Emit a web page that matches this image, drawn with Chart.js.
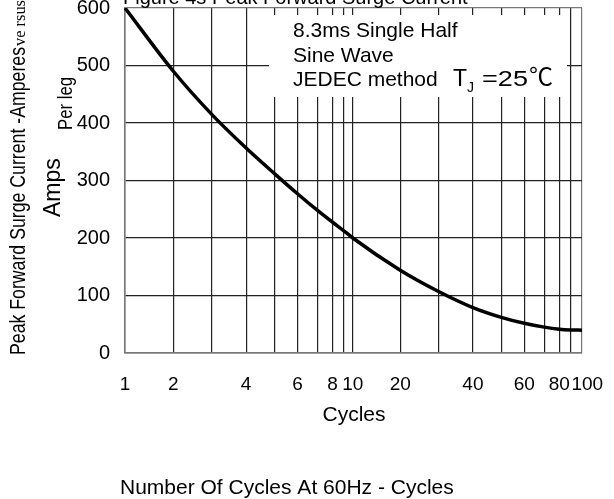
<!DOCTYPE html>
<html>
<head>
<meta charset="utf-8">
<script src="https://cdn.jsdelivr.net/npm/chart.js@4/dist/chart.umd.min.js"></script>
<style>
  html, body { margin: 0; padding: 0; background: #fff; }
  #surgeChart { display: block; }
</style>
</head>
<body>
<canvas id="surgeChart" width="614" height="499"></canvas>
<script>
// Number of cycles (grid positions on the x axis) and surge current
const cycles = [1, 2, 3, 4, 5, 6, 7, 8, 9, 10, 20, 30, 40, 50, 60, 70, 80, 90, 100];
const surgeAmps = [600, 490, 415, 356.5, 312, 277, 248, 227.5, 213, 200, 144, 107, 79, 62, 51.6, 45, 41.5, 40.2, 39.7];

// Tick labels shown under the x axis, and y axis range
const xTickLabels = [1, 2, 4, 6, 8, 10, 20, 40, 60, 80, 100];
const yMin = 0;
const yMax = 600;
const yStep = 100;

// The printed x axis is not a true log scale: each grid line sits at its own fraction of the width
const gridStops = [0, 0.1058, 0.1898, 0.2650, 0.3270, 0.3774, 0.4212, 0.4540, 0.4781, 0.4985,
                   0.6022, 0.6861, 0.7613, 0.8234, 0.8737, 0.9175, 0.9504, 0.9745, 1];

// map a cycle count to its fraction along the axis (linear between grid lines)
function warp(v) {
    if (v <= cycles[0]) return gridStops[0];
    for (let i = 1; i < cycles.length; i++) {
        if (v <= cycles[i]) {
            let t = (v - cycles[i - 1]) / (cycles[i] - cycles[i - 1]);
            return gridStops[i - 1] + t * (gridStops[i] - gridStops[i - 1]);
        }
    }
    return gridStops[gridStops.length - 1];
}

function unwarp(f) {
    for (let i = 1; i < gridStops.length; i++) {
        if (f <= gridStops[i]) {
            let t = (f - gridStops[i - 1]) / (gridStops[i] - gridStops[i - 1]);
            return cycles[i - 1] + t * (cycles[i] - cycles[i - 1]);
        }
    }
    return cycles[cycles.length - 1];
}

// Custom scale: a linear scale over the warped fraction
class CycleScale extends Chart.LinearScale {
    determineDataLimits() {
        this.min = 0;
        this.max = 1;
    }
    buildTicks() {
        return cycles.map(v => ({ value: v }));
    }
    getPixelForValue(value) {
        return super.getPixelForValue(warp(value));
    }
    getValueForPixel(pixel) {
        return unwarp(super.getValueForPixel(pixel));
    }
}
CycleScale.id = 'cycles';
CycleScale.defaults = {};
Chart.register(CycleScale);

const sans = "'Liberation Sans', Arial, sans-serif";
const narrow = "'Liberation Sans Narrow', 'Liberation Sans', Arial, sans-serif";

// draw text rotated bottom-to-top, starting at (x, y); optionally squeeze to a given length
function verticalText(ctx, text, x, y, font, fitLength) {
    ctx.save();
    ctx.font = font;
    ctx.translate(x, y);
    ctx.rotate(-Math.PI / 2);
    if (fitLength) {
        let w = ctx.measureText(text).width;
        ctx.scale(fitLength / w, 1);
    }
    ctx.textAlign = 'left';
    ctx.textBaseline = 'alphabetic';
    ctx.fillText(text, 0, 0);
    ctx.restore();
}

// horizontal text stretched/squeezed to a given width
function fitText(ctx, text, x, y, font, width) {
    ctx.save();
    ctx.font = font;
    ctx.translate(x, y);
    ctx.scale(width / ctx.measureText(text).width, 1);
    ctx.fillText(text, 0, 0);
    ctx.restore();
}

const labelsPlugin = {
    id: 'labelsPlugin',
    beforeDatasetsDraw(chart) {
        // white panel behind the note, covering the grid
        const ctx = chart.ctx;
        ctx.save();
        ctx.fillStyle = '#fff';
        ctx.fillRect(269, 15, 298, 82);
        ctx.restore();
    },
    afterDraw(chart) {
        const ctx = chart.ctx;
        ctx.save();
        ctx.fillStyle = '#000';
        ctx.textBaseline = 'alphabetic';
        ctx.textAlign = 'left';

        // figure title, mostly cut off at the top edge
        ctx.font = '20px ' + sans;
        ctx.fillText('Figure 4s Peak Forward Surge Current', 123, 4);

        // note inside the plot
        ctx.font = '21px ' + sans;
        ctx.fillText('8.3ms Single Half', 293, 36.5);
        ctx.fillText('Sine Wave', 293, 61.5);
        ctx.fillText('JEDEC method', 293, 86);
        ctx.font = '23px ' + sans;
        ctx.fillText('T', 453, 86);
        ctx.font = '14px ' + sans;
        ctx.fillText('J', 467, 92);
        fitText(ctx, '=25', 482, 86, '22px ' + sans, 46);
        ctx.font = "24px 'Noto Sans CJK SC', sans-serif";
        ctx.fillText('\u2103', 529, 85);

        // y axis titles
        verticalText(ctx, 'Peak Forward Surge Current -Amperes', 25, 355, '22px ' + narrow, 308);
        verticalText(ctx, 've rsus', 25, 46, "16px 'Liberation Serif', serif", 46);
        verticalText(ctx, 'Amps', 60, 217, '23px ' + sans);
        verticalText(ctx, 'Per leg', 72, 130, '21px ' + narrow, 53);

        // x axis titles
        ctx.font = '21px ' + sans;
        ctx.textAlign = 'center';
        ctx.fillText('Cycles', 354, 421);
        ctx.textAlign = 'left';
        ctx.fillText('Number Of Cycles At 60Hz - Cycles', 120, 494);
        ctx.restore();
    }
};

const ctx = document.getElementById('surgeChart').getContext('2d');
const surgeChart = new Chart(ctx, {
    type: 'line',
    data: {
        datasets: [{
            data: cycles.map((c, i) => ({ x: c, y: surgeAmps[i] })),
            borderColor: '#000',
            borderWidth: 3.5,
            pointRadius: 0,
            fill: false,
            cubicInterpolationMode: 'monotone'
        }]
    },
    options: {
        responsive: false,
        animation: false,
        layout: { padding: { top: 8, right: 32, left: 0, bottom: 0 } },
        plugins: {
            legend: { display: false },
            tooltip: { enabled: false },
            title: { display: false }
        },
        scales: {
            x: {
                type: 'cycles',
                position: 'bottom',
                afterFit: scale => {
                    scale.height = 146;
                    scale.paddingLeft = 0;
                    scale.paddingRight = 0;
                },
                grid: {
                    drawTicks: false,
                    lineWidth: 1.2,
                    color: c => (c.tick && c.tick.value === 100) ? '#777' : '#222'
                },
                border: { color: '#777', width: 1.5 },
                ticks: {
                    autoSkip: false,
                    maxRotation: 0,
                    padding: 20,
                    color: '#000',
                    font: { family: sans, size: 19 },
                    // the last label sits a little right of its grid line, as printed
                    callback: v => !xTickLabels.includes(v) ? '' : (v === 100 ? '  100' : String(v))
                }
            },
            y: {
                min: yMin,
                max: yMax,
                afterFit: scale => {
                    scale.width = 125;
                    scale.paddingTop = 0;
                    scale.paddingBottom = 0;
                },
                grid: {
                    drawTicks: false,
                    lineWidth: 1.2,
                    color: c => (c.tick && c.tick.value === yMax) ? '#777' : '#222'
                },
                border: { color: '#777', width: 1.5 },
                ticks: {
                    stepSize: yStep,
                    padding: 15,
                    color: '#000',
                    font: { family: sans, size: 20 }
                }
            }
        }
    },
    plugins: [labelsPlugin]
});
</script>
</body>
</html>
